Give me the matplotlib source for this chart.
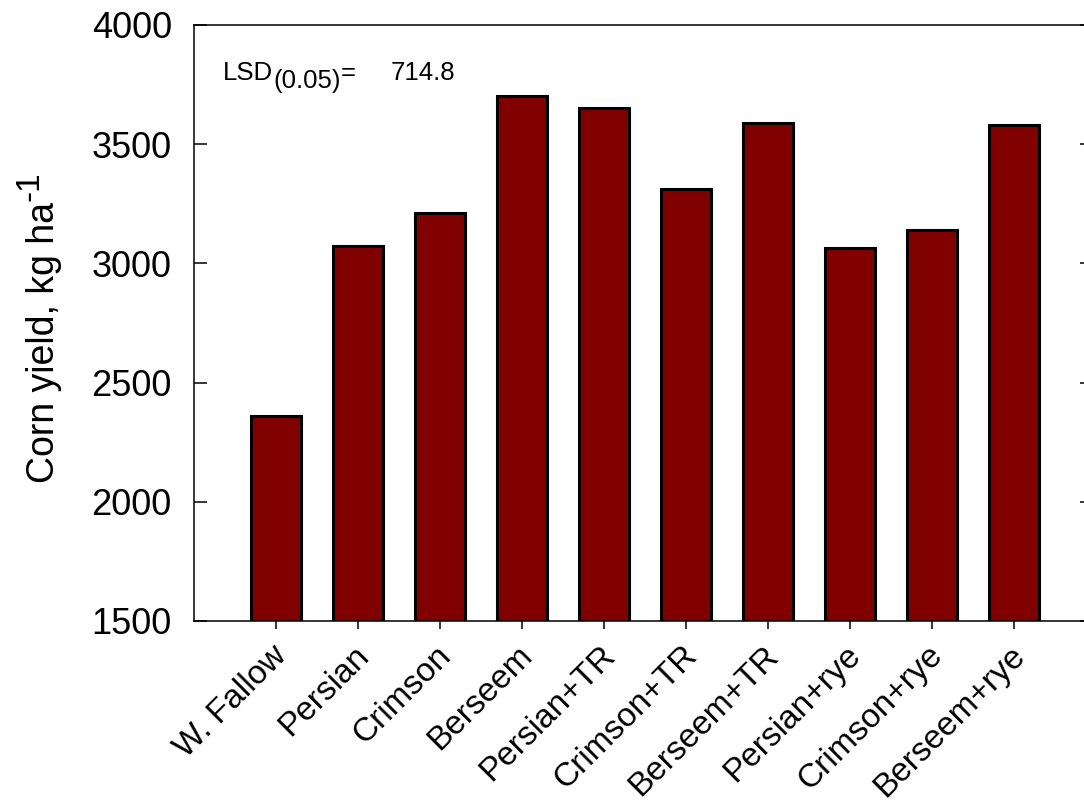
import matplotlib
matplotlib.use("Agg")
import matplotlib.pyplot as plt
import matplotlib.transforms as mtransforms
import numpy as np

plt.rcParams['font.family'] = ['Liberation Sans', 'DejaVu Sans']

# cover crop treatments and corn grain yield (kg/ha)
treatments = ["W. Fallow", "Persian", "Crimson", "Berseem", "Persian+TR",
              "Crimson+TR", "Berseem+TR", "Persian+rye", "Crimson+rye", "Berseem+rye"]
yields = [2360, 3072, 3212, 3704, 3651, 3314, 3587, 3064, 3142, 3582]
y_ticks = [1500, 2000, 2500, 3000, 3500, 4000]
lsd_label = "714.8"

fig = plt.figure(figsize=(10.84, 8.01), dpi=100)
ax = fig.add_axes([194 / 1084, 1 - 621 / 801, (1093 - 194) / 1084, (621 - 25) / 801])

x = np.arange(len(treatments))
ax.bar(x, yields, width=0.61, color="#800000", edgecolor="black", linewidth=2.2, zorder=2)

ax.set_xlim(-1, 9.96)
ax.set_ylim(1500, 4000)
ax.set_yticks(y_ticks)
ax.set_xticks(x)
ax.set_xticklabels([])

# slanted treatment names, ending just right of and below each tick
name_trans = ax.get_xaxis_transform() + mtransforms.ScaledTranslation(
    -5 / 100, -19 / 100, fig.dpi_scale_trans)
for xi, name in zip(x, treatments):
    ax.text(xi, 0, name, transform=name_trans, rotation=45, rotation_mode="anchor",
            ha="right", va="top", fontsize=24)

for s in ax.spines.values():
    s.set_linewidth(1.1)

ax.tick_params(axis="y", which="both", direction="in", length=9.4, width=1.1,
               labelsize=26, right=True, pad=16)
ax.tick_params(axis="x", direction="out", length=5.8, width=1.1)

# axis title with a full-size raised "-1"
ax.set_ylabel("Corn yield, kg ha", fontsize=27)
ax.yaxis.set_label_coords(-0.147, 0.468)
ax.annotate("-1", xy=(0, 1), xycoords=ax.yaxis.label, xytext=(-11, 1),
            textcoords="offset pixels", rotation=90, fontsize=24,
            ha="left", va="bottom", annotation_clip=False)

# LSD note with the subscript kept at full size
t1 = ax.text(223, 801 - 85, "LSD", transform=None, fontsize=18.5, va="bottom", ha="left")
t2 = ax.annotate("(0.05)", xy=(1, 0), xycoords=t1, xytext=(0, -8),
                 textcoords="offset pixels", fontsize=18.5, va="bottom", ha="left")
t3 = ax.annotate("=", xy=(1, 0), xycoords=t2, xytext=(0, 8),
                 textcoords="offset pixels", fontsize=18.5, va="bottom", ha="left")
ax.annotate(lsd_label, xy=(1, 0), xycoords=t3, xytext=(35, 0),
            textcoords="offset pixels", fontsize=18.5, va="bottom", ha="left")

fig.savefig("out.png", dpi=100, facecolor="white")
